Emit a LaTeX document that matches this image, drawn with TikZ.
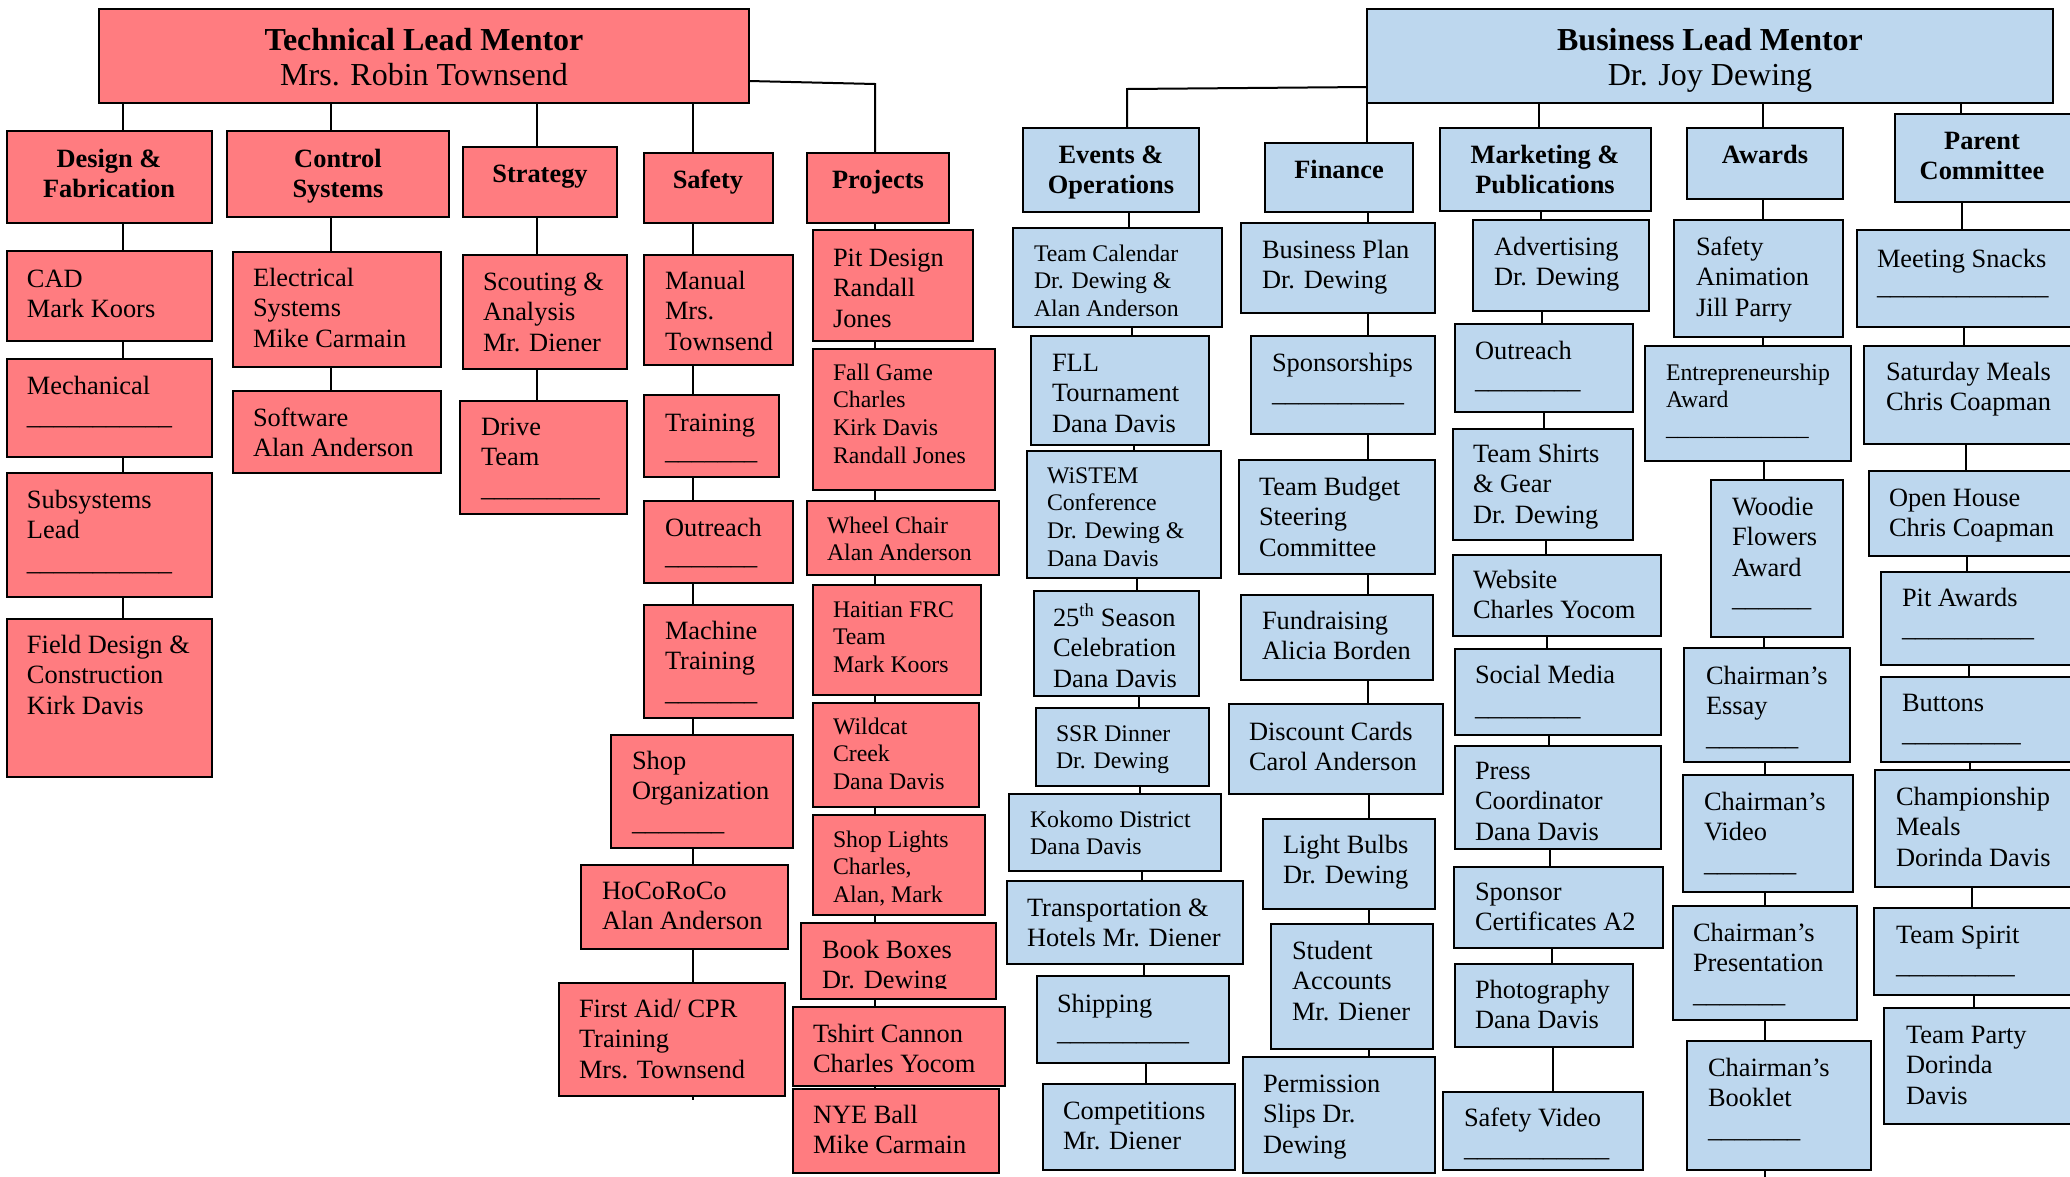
\documentclass[tikz,border=0pt]{standalone}
\usepackage{fontspec}
\setmainfont{Liberation Serif}
\definecolor{redfill}{HTML}{FF7C80}
\definecolor{bluefill}{HTML}{BDD7EE}
\tikzset{
  redbox/.style={draw=black, fill=redfill, line width=2pt, inner sep=0pt, outer sep=0pt},
  bluebox/.style={draw=black, fill=bluefill, line width=2pt, inner sep=0pt, outer sep=0pt},
  lbl/.style={inner sep=0pt, outer sep=0pt, text=black},
  fn/.style={font=\fontsize{26.4}{30.5}\selectfont},
  fs/.style={font=\fontsize{23.8}{27.8}\selectfont},
  fh/.style={font=\fontsize{26.4}{30.7}\selectfont\bfseries},
  ft/.style={font=\fontsize{32}{35}\selectfont\bfseries},
  ln/.style={draw=black, line width=2pt},
}
\newcount\ucnt
\newcommand\uln[1]{\ucnt=#1\relax\loop\ifnum\ucnt>0 \_\advance\ucnt-1\relax\repeat}
\newcommand\bx[6]{\node[#1,anchor=north west,minimum width={#5-#3},minimum height={#6-#4}] (#2) at (#3,#4) {};}
\newcommand\tx[5]{\node[lbl,#4,anchor=base west] (#1) at (#2,#3) {\begin{tabular}[t]{@{}l@{}}#5\end{tabular}};}
\newcommand\hd[5]{\node[lbl,#4,anchor=base] (#1) at (#2,#3) {\begin{tabular}[t]{@{}c@{}}#5\end{tabular}};}
\newcommand\cn[3]{\draw[ln] (#1.south -| #3,0) -- (#2.north -| #3,0);}
\begin{document}
\begin{tikzpicture}[x=1pt,y=-1pt]
\useasboundingbox (0,0) rectangle (2070,1176);
\fill[white] (0,0) rectangle (2070,1176);
\clip (0,0) rectangle (2070,1176);
% ---------------- red boxes
\bx{redbox}{tlm}{99}{9}{749}{103}
\bx{redbox}{df}{7}{131}{212}{223}
\bx{redbox}{cs}{227}{131}{449}{217}
\bx{redbox}{st}{463}{147}{617}{217}
\bx{redbox}{sf}{644}{153}{773}{223}
\bx{redbox}{pj}{807}{153}{949}{223}
\bx{redbox}{cad}{7}{251}{212}{341}
\bx{redbox}{mech}{7}{359}{212}{457}
\bx{redbox}{subl}{7}{473}{212}{597}
\bx{redbox}{field}{7}{619}{212}{777}
\bx{redbox}{elec}{233}{252}{441}{367}
\bx{redbox}{soft}{233}{391}{441}{473}
\bx{redbox}{scout}{463}{255}{627}{369}
\bx{redbox}{drive}{460}{401}{627}{514}
\bx{redbox}{manual}{644}{255}{793}{365}
\bx{redbox}{train}{644}{395}{779}{477}
\bx{redbox}{outr}{644}{501}{793}{583}
\bx{redbox}{mach}{644}{605}{793}{718}
\bx{redbox}{shop}{611}{735}{793}{848}
\bx{redbox}{hoco}{581}{865}{788}{949}
\bx{redbox}{first}{559}{983}{785}{1096}
\bx{redbox}{pit}{813}{230}{973}{341}
\bx{redbox}{fall}{813}{349}{995}{490}
\bx{redbox}{wheel}{807}{501}{999}{575}
\bx{redbox}{haiti}{813}{585}{981}{695}
\bx{redbox}{wild}{813}{703}{979}{807}
\bx{redbox}{shopl}{813}{815}{985}{915}
\bx{redbox}{book}{801}{923}{996}{999}
\bx{redbox}{tshirt}{793}{1007}{1005}{1086}
\bx{redbox}{nye}{793}{1089}{999}{1173}
% ---------------- blue boxes
\bx{bluebox}{blm}{1367}{9}{2053}{103}
\bx{bluebox}{ev}{1023}{128}{1199}{212}
\bx{bluebox}{fin}{1265}{143}{1413}{212}
\bx{bluebox}{mk}{1440}{128}{1651}{211}
\bx{bluebox}{aw}{1687}{128}{1843}{199}
\bx{bluebox}{pc}{1895}{114}{2072}{202}
\bx{bluebox}{tcal}{1013}{228}{1222}{327}
\bx{bluebox}{fll}{1031}{336}{1209}{445}
\bx{bluebox}{wis}{1027}{451}{1221}{578}
\bx{bluebox}{s25}{1034}{591}{1199}{696}
\bx{bluebox}{ssr}{1036}{708}{1209}{786}
\bx{bluebox}{koko}{1009}{794}{1221}{871}
\bx{bluebox}{trans}{1007}{881}{1243}{964}
\bx{bluebox}{ship}{1037}{976}{1229}{1063}
\bx{bluebox}{comp}{1043}{1084}{1235}{1170}
\bx{bluebox}{bplan}{1241}{223}{1435}{313}
\bx{bluebox}{spons}{1251}{336}{1435}{434}
\bx{bluebox}{tbud}{1239}{460}{1435}{574}
\bx{bluebox}{fund}{1241}{595}{1433}{680}
\bx{bluebox}{disc}{1229}{704}{1443}{794}
\bx{bluebox}{bulbs}{1263}{819}{1435}{909}
\bx{bluebox}{stud}{1271}{924}{1433}{1049}
\bx{bluebox}{perm}{1243}{1057}{1435}{1173}
\bx{bluebox}{adv}{1473}{220}{1649}{311}
\bx{bluebox}{outb}{1455}{324}{1633}{412}
\bx{bluebox}{shirts}{1453}{429}{1633}{540}
\bx{bluebox}{web}{1453}{555}{1661}{636}
\bx{bluebox}{soc}{1455}{649}{1661}{735}
\bx{bluebox}{press}{1455}{746}{1661}{849}
\bx{bluebox}{spc}{1454}{867}{1663}{948}
\bx{bluebox}{photo}{1455}{964}{1633}{1047}
\bx{bluebox}{svid}{1443}{1092}{1643}{1170}
\bx{bluebox}{sanim}{1674}{220}{1843}{337}
\bx{bluebox}{entre}{1645}{346}{1851}{461}
\bx{bluebox}{woodie}{1711}{480}{1843}{637}
\bx{bluebox}{essay}{1684}{648}{1850}{762}
\bx{bluebox}{cvid}{1683}{775}{1853}{892}
\bx{bluebox}{cpres}{1673}{906}{1857}{1020}
\bx{bluebox}{cbook}{1687}{1041}{1871}{1170}
\bx{bluebox}{snack}{1857}{230}{2072}{327}
\bx{bluebox}{smeal}{1864}{346}{2072}{444}
\bx{bluebox}{open}{1869}{471}{2072}{556}
\bx{bluebox}{pita}{1881}{572}{2072}{665}
\bx{bluebox}{btn}{1881}{677}{2072}{762}
\bx{bluebox}{champ}{1875}{770}{2072}{887}
\bx{bluebox}{spirit}{1874}{908}{2072}{995}
\bx{bluebox}{party}{1884}{1008}{2072}{1124}
% ---------------- red connectors
\cn{tlm}{df}{123}
\cn{tlm}{cs}{331}
\cn{tlm}{st}{537}
\cn{tlm}{sf}{693}
\coordinate (pjk) at (875,84);
\draw[ln] ([yshift=-25pt]tlm.east) -- (pjk) -- (pjk |- pj.north);
\cn{df}{cad}{123}\cn{cad}{mech}{123}\cn{mech}{subl}{123}\cn{subl}{field}{123}
\cn{cs}{elec}{331}\cn{elec}{soft}{331}
\cn{st}{scout}{537}\cn{scout}{drive}{537}
\cn{sf}{manual}{693}\cn{manual}{train}{693}\cn{train}{outr}{693}\cn{outr}{mach}{693}
\cn{mach}{shop}{693}\cn{shop}{hoco}{693}\cn{hoco}{first}{693}
\coordinate (faend) at (693,1100);
\draw[ln] (first.south -| faend) -- (faend);
\cn{pj}{pit}{875}\cn{pit}{fall}{875}\cn{fall}{wheel}{875}\cn{wheel}{haiti}{875}
\cn{haiti}{wild}{875}\cn{wild}{shopl}{875}\cn{shopl}{book}{875}\cn{book}{tshirt}{875}\cn{tshirt}{nye}{875}
% ---------------- blue connectors
\coordinate (evk) at (1127,89);
\draw[ln] ([yshift=-31pt]blm.west) -- (evk) -- (evk |- ev.north);
\cn{blm}{fin}{1367}
\cn{blm}{mk}{1539}
\cn{blm}{aw}{1763}
\cn{blm}{pc}{1961}
\cn{ev}{tcal}{1129}\cn{tcal}{fll}{1132}\cn{fll}{wis}{1134}\cn{wis}{s25}{1137}\cn{s25}{ssr}{1139}
\cn{ssr}{koko}{1140}\cn{koko}{trans}{1142}\cn{trans}{ship}{1144}\cn{ship}{comp}{1146}
\cn{fin}{bplan}{1368}\cn{bplan}{spons}{1368}\cn{spons}{tbud}{1368}\cn{tbud}{fund}{1368}
\cn{fund}{disc}{1368}\cn{disc}{bulbs}{1369}\cn{bulbs}{stud}{1369}\cn{stud}{perm}{1369}
\cn{mk}{adv}{1541}\cn{adv}{outb}{1542}\cn{outb}{shirts}{1544}\cn{shirts}{web}{1546}\cn{web}{soc}{1547}
\cn{soc}{press}{1549}\cn{press}{spc}{1550}\cn{spc}{photo}{1552}\cn{photo}{svid}{1553}
\cn{aw}{sanim}{1763}\cn{sanim}{entre}{1763}\cn{entre}{woodie}{1764}\cn{woodie}{essay}{1764}
\cn{essay}{cvid}{1765}\cn{cvid}{cpres}{1765}\cn{cpres}{cbook}{1765}
\coordinate (cbend) at (1765,1178);
\draw[ln] (cbook.south -| cbend) -- (cbend);
\cn{pc}{snack}{1962}\cn{snack}{smeal}{1964}\cn{smeal}{open}{1966}\cn{open}{pita}{1967}
\cn{pita}{btn}{1969}\cn{btn}{champ}{1970}\cn{champ}{spirit}{1972}\cn{spirit}{party}{1974}
% ---------------- red texts
\hd{tlm-t}{424}{50}{ft}{Technical Lead Mentor\\\mdseries Mrs. Robin Townsend}
\hd{df-t}{109}{167}{fh}{Design \&\\Fabrication}
\hd{cs-t}{338}{167}{fh}{Control\\Systems}
\hd{st-t}{540}{182}{fh}{Strategy}
\hd{sf-t}{708}{188}{fh}{Safety}
\hd{pj-t}{878}{188}{fh}{Projects}
\tx{cad-t}{27}{287}{fn}{CAD\\Mark Koors}
\tx{mech-t}{27}{394}{fn}{Mechanical\\\uln{11}}
\tx{subl-t}{27}{508}{fn}{Subsystems\\Lead\\[1.5pt]\uln{11}}
\tx{field-t}{27}{653}{fn}{Field Design \&\\Construction\\Kirk Davis}
\tx{elec-t}{253}{286}{fn}{Electrical\\Systems\\Mike Carmain}
\tx{soft-t}{253}{426}{fn}{Software\\Alan Anderson}
\tx{scout-t}{483}{290}{fn}{Scouting \&\\Analysis\\Mr. Diener}
\tx{drive-t}{481}{435}{fn}{Drive\\Team\\\uln{9}}
\tx{manual-t}{665}{289}{fn}{Manual\\Mrs.\\Townsend}
\tx{train-t}{665}{431}{fn}{Training\\[-2.5pt]\uln{7}}
\tx{outr-t}{665}{536}{fn}{Outreach\\[-2.5pt]\uln{7}}
\tx{mach-t}{665}{639}{fn}{Machine\\Training\\\uln{7}}
\tx{shop-t}{632}{769}{fn}{Shop\\Organization\\\uln{7}}
\tx{hoco-t}{602}{899}{fn}{HoCoRoCo\\Alan Anderson}
\tx{first-t}{579}{1017}{fn}{First Aid/ CPR\\Training\\Mrs. Townsend}
\tx{pit-t}{833}{266}{fn}{Pit Design\\Randall\\Jones}
\tx{fall-t}{833}{380}{fs}{Fall Game\\Charles\\Kirk Davis\\Randall Jones}
\tx{wheel-t}{827}{533}{fs}{Wheel Chair\\Alan Anderson}
\tx{haiti-t}{833}{617}{fs}{Haitian FRC\\Team\\Mark Koors}
\tx{wild-t}{833}{734}{fs}{Wildcat\\Creek\\Dana Davis}
\tx{shopl-t}{833}{847}{fs}{Shop Lights\\Charles,\\Alan, Mark}
\begin{scope}
\clip (801,923) rectangle (996,988);
\tx{book-t}{822}{958}{fn}{Book Boxes\\Dr. Dewing}
\end{scope}
\tx{tshirt-t}{813}{1042}{fn}{Tshirt Cannon\\Charles Yocom}
\tx{nye-t}{813}{1123}{fn}{NYE Ball\\Mike Carmain}
% ---------------- blue texts
\hd{blm-t}{1710}{50}{ft}{Business Lead Mentor\\\mdseries Dr. Joy Dewing}
\hd{ev-t}{1111}{163}{fh}{Events \&\\Operations}
\hd{fin-t}{1339}{178}{fh}{Finance}
\hd{mk-t}{1545}{163}{fh}{Marketing \&\\Publications}
\hd{aw-t}{1765}{163}{fh}{Awards}
\hd{pc-t}{1982}{149}{fh}{Parent\\Committee}
\tx{tcal-t}{1034}{261}{fs}{Team Calendar\\Dr. Dewing \&\\Alan Anderson}
\tx{fll-t}{1052}{371}{fn}{FLL\\Tournament\\Dana Davis}
\tx{wis-t}{1047}{483}{fs}{WiSTEM\\Conference\\Dr. Dewing \&\\Dana Davis}
\tx{s25-t}{1053}{626}{fn}{25\textsuperscript{th} Season\\Celebration\\Dana Davis}
\tx{ssr-t}{1056}{741}{fs}{SSR Dinner\\Dr. Dewing}
\tx{koko-t}{1030}{827}{fs}{Kokomo District\\Dana Davis}
\tx{trans-t}{1027}{916}{fn}{Transportation \&\\Hotels Mr. Diener}
\tx{ship-t}{1057}{1012}{fn}{Shipping\\[-2.5pt]\uln{10}}
\tx{comp-t}{1063}{1119}{fn}{Competitions\\Mr. Diener}
\tx{bplan-t}{1262}{258}{fn}{Business Plan\\Dr. Dewing}
\tx{spons-t}{1272}{371}{fn}{Sponsorships\\\uln{10}}
\tx{tbud-t}{1259}{495}{fn}{Team Budget\\Steering\\Committee}
\tx{fund-t}{1262}{629}{fn}{Fundraising\\Alicia Borden}
\tx{disc-t}{1249}{740}{fn}{Discount Cards\\Carol Anderson}
\tx{bulbs-t}{1283}{853}{fn}{Light Bulbs\\Dr. Dewing}
\tx{stud-t}{1292}{959}{fn}{Student\\Accounts\\Mr. Diener}
\tx{perm-t}{1263}{1092}{fn}{Permission\\Slips Dr.\\Dewing}
\tx{adv-t}{1494}{255}{fn}{Advertising\\Dr. Dewing}
\tx{outb-t}{1475}{359}{fn}{Outreach\\[-1.5pt]\uln{8}}
\tx{shirts-t}{1473}{462}{fn}{Team Shirts\\\& Gear\\Dr. Dewing}
\tx{web-t}{1473}{588}{fn}{Website\\Charles Yocom}
\tx{soc-t}{1475}{683}{fn}{Social Media\\[1.5pt]\uln{8}}
\tx{press-t}{1475}{779}{fn}{Press\\Coordinator\\Dana Davis}
\tx{spc-t}{1475}{900}{fn}{Sponsor\\Certificates A2}
\tx{photo-t}{1475}{998}{fn}{Photography\\Dana Davis}
\tx{svid-t}{1464}{1126}{fn}{Safety Video\\\uln{11}}
\tx{sanim-t}{1696}{255}{fn}{Safety\\Animation\\Jill Parry}
\tx{entre-t}{1666}{380}{fs}{Entrepreneurship\\Award\\\uln{12}}
\tx{woodie-t}{1732}{515}{fn}{Woodie\\Flowers\\Award\\\uln{6}}
\tx{essay-t}{1706}{684}{fn}{Chairman's\\Essay\\\uln{7}}
\tx{cvid-t}{1704}{810}{fn}{Chairman's\\Video\\\uln{7}}
\tx{cpres-t}{1693}{941}{fn}{Chairman's\\Presentation\\\uln{7}}
\tx{cbook-t}{1708}{1076}{fn}{Chairman's\\Booklet\\\uln{7}}
\tx{snack-t}{1877}{267}{fn}{Meeting Snacks\\[-3.5pt]\uln{13}}
\tx{smeal-t}{1886}{380}{fn}{Saturday Meals\\Chris Coapman}
\tx{open-t}{1889}{506}{fn}{Open House\\Chris Coapman}
\tx{pita-t}{1902}{606}{fn}{Pit Awards\\\uln{10}}
\tx{btn-t}{1902}{711}{fn}{Buttons\\\uln{9}}
\tx{champ-t}{1896}{805}{fn}{Championship\\Meals\\Dorinda Davis}
\tx{spirit-t}{1896}{943}{fn}{Team Spirit\\\uln{9}}
\tx{party-t}{1906}{1043}{fn}{Team Party\\Dorinda\\Davis}
\end{tikzpicture}
\end{document}
